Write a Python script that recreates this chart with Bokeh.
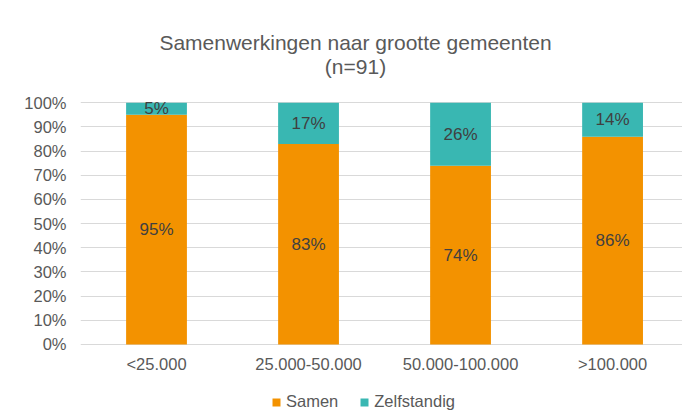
from bokeh.plotting import figure
from bokeh.models import (ColumnDataSource, Range1d, FixedTicker, NumeralTickFormatter,
                          Legend, LegendItem)
from bokeh.core.properties import value
from bokeh.embed import file_html
from bokeh.resources import INLINE

categories = ["<25.000", "25.000-50.000", "50.000-100.000", ">100.000"]
samen = [95, 83, 74, 86]
zelfstandig = [5, 17, 26, 14]
series_names = ["Samen", "Zelfstandig"]
title_lines = ["Samenwerkingen naar grootte gemeenten", "(n=91)"]
y_ticks = [0, 10, 20, 30, 40, 50, 60, 70, 80, 90, 100]

ORANGE = "#F39200"
TEAL = "#39B7B2"
GREY = "#595959"
DARK = "#404040"
FONT = "Liberation Sans"

xs = list(range(len(categories)))
src = ColumnDataSource(dict(
    x=xs,
    samen=[v / 100 for v in samen],
    zelf=[v / 100 for v in zelfstandig],
))

p = figure(width=682, height=410, output_backend="svg", toolbar_location=None,
           x_range=Range1d(-0.5, 3.46), y_range=Range1d(-0.2731, 1.357),
           min_border_left=80, min_border_right=0, min_border_top=16, min_border_bottom=0)
p.outline_line_color = None
p.background_fill_color = "white"
p.border_fill_color = "white"

rs = p.vbar_stack(["samen", "zelf"], x="x", width=0.40, color=[ORANGE, TEAL],
                  line_color=None, source=src)

# data labels
lab_x, lab_y, lab_t = [], [], []
for i in xs:
    s = samen[i] / 100
    z = zelfstandig[i] / 100
    lab_x += [i, i]
    lab_y += [s / 2, s + z / 2]
    lab_t += [f"{samen[i]}%", f"{zelfstandig[i]}%"]
p.text(x=lab_x, y=lab_y, text=lab_t, text_align="center", text_baseline="middle",
       text_font=value(FONT), text_font_size="17px", text_color=DARK)

# category labels (x axis)
p.text(x=xs, y=[-0.0827] * len(xs), text=categories, text_align="center",
       text_baseline="middle", text_font=value(FONT), text_font_size="16.5px",
       text_color=GREY)

# title
p.text(x=[1.309, 1.309], y=[1.2495, 1.150], text=title_lines, text_align="center",
       text_baseline="middle", text_font=value(FONT), text_font_size="21px",
       text_color=GREY)

# axes
p.yaxis.ticker = FixedTicker(ticks=[t / 100 for t in y_ticks])
p.yaxis.formatter = NumeralTickFormatter(format="0%")
p.yaxis.axis_line_color = None
p.yaxis.major_tick_line_color = None
p.yaxis.minor_tick_line_color = None
p.yaxis.major_tick_out = 0
p.yaxis.major_label_standoff = 14
p.yaxis.major_label_text_font = FONT
p.yaxis.major_label_text_font_size = "16.5px"
p.yaxis.major_label_text_color = GREY

p.xaxis.visible = False

p.xgrid.grid_line_color = None
p.ygrid.grid_line_color = "#D9D9D9"
p.ygrid.grid_line_width = 1
p.ygrid.ticker = FixedTicker(ticks=[t / 100 for t in y_ticks])

legend = Legend(items=[LegendItem(label=series_names[0], renderers=[rs[0]]),
                       LegendItem(label=series_names[1], renderers=[rs[1]])],
                orientation="horizontal", location=(191, -1),
                padding=0, margin=0, spacing=21, label_standoff=5,
                glyph_width=10, glyph_height=10, label_height=10,
                border_line_color=None, background_fill_alpha=0,
                label_text_font=FONT, label_text_font_size="16.5px",
                label_text_color=GREY)
p.add_layout(legend, "center")

open("out.html", "w").write(file_html(p, INLINE))
